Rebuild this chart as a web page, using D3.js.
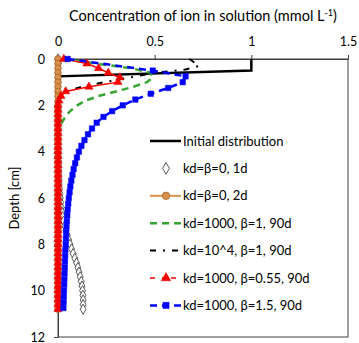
<!DOCTYPE html>
<html>
<head>
<meta charset="utf-8">
<script src="https://cdn.jsdelivr.net/npm/d3@7"></script>
<style>
  body { margin: 0; background: #fff; }
  svg { display: block; font-family: Lato, "Open Sans", sans-serif; }
</style>
</head>
<body>
<svg id="chart" width="359" height="343"></svg>
<script>
// depth grids (cm)
const depth02 = [0, 0.2, 0.4, 0.6, 0.8, 1, 1.2, 1.4, 1.6, 1.8, 2, 2.2, 2.4, 2.6, 2.8, 3, 3.2, 3.4, 3.6, 3.8,
  4, 4.2, 4.4, 4.6, 4.8, 5, 5.2, 5.4, 5.6, 5.8, 6, 6.2, 6.4, 6.6, 6.8, 7, 7.2, 7.4, 7.6, 7.8,
  8, 8.2, 8.4, 8.6, 8.8, 9, 9.2, 9.4, 9.6, 9.8, 10, 10.2, 10.4, 10.6, 10.8];
const depth025 = [0, 0.5, 0.75, 1, 1.25, 1.5, 1.75, 2, 2.25, 2.5, 2.75, 3, 3.25, 3.5, 3.75, 4, 4.25, 4.5, 4.75,
  5, 5.25, 5.5, 5.75, 6, 6.25, 6.5, 6.75, 7, 7.25, 7.5, 7.75, 8, 8.25, 8.5, 8.75, 9, 9.25, 9.5, 9.75,
  10, 10.25, 10.5, 10.75];

// concentrations (mmol/L)
const initDepth = [0, 0.5, 0.75, 10.8];
const initConc = [1, 1, 0, 0];

const conc1d = [0, 0, 0, 0, 0, 0, 0, 0, 0, 0, 0, 0, 0, 0, 0, 0, 0, 0, 0, 0,
  0.001, 0.001, 0.002, 0.002, 0.003, 0.004, 0.005, 0.006, 0.008, 0.01, 0.012, 0.014, 0.017, 0.02, 0.024,
  0.029, 0.035, 0.041, 0.048, 0.055, 0.062, 0.07, 0.078, 0.087, 0.096, 0.103, 0.109, 0.115, 0.12, 0.124,
  0.127, 0.129, 0.13, 0.13, 0.13];
const conc2d = [0, 0, 0, 0, 0, 0, 0, 0, 0, 0, 0, 0, 0, 0, 0, 0, 0, 0, 0, 0,
  0, 0, 0, 0, 0, 0, 0, 0, 0, 0, 0, 0, 0, 0, 0, 0, 0, 0, 0, 0,
  0, 0, 0, 0, 0, 0, 0, 0, 0, 0, 0, 0, 0, 0, 0];

const greenDepth = [0, 0.2, 0.4, 0.6, 0.8, 1, 1.2, 1.4, 1.6, 1.8, 2, 2.2, 2.4, 2.6, 2.8, 3, 3.2, 10.8];
const greenConc = [0.03, 0.2, 0.38, 0.48, 0.49, 0.46, 0.39, 0.3, 0.21, 0.14, 0.1, 0.07, 0.045, 0.03, 0.015, 0.005, 0, 0];

const blackDepth = [0, 0.3, 0.45, 0.6, 0.8, 1, 1.2, 1.4, 1.6, 1.8, 10.8];
const blackConc = [0.68, 0.73, 0.66, 0.5, 0.37, 0.24, 0.12, 0.05, 0.01, 0, 0];

const redConc = [0.03, 0.15, 0.21, 0.26, 0.32, 0.31, 0.16, 0.04, 0.015, 0.005,
  0, 0, 0, 0, 0, 0, 0, 0, 0, 0, 0, 0, 0, 0, 0, 0, 0, 0, 0, 0,
  0, 0, 0, 0, 0, 0, 0, 0, 0, 0, 0, 0, 0, 0, 0, 0, 0, 0, 0, 0, 0, 0, 0, 0, 0];

const blueConc = [0.05, 0.49, 0.66, 0.645, 0.57, 0.48, 0.4, 0.335, 0.28, 0.235, 0.2, 0.176, 0.155, 0.137,
  0.121, 0.108, 0.098, 0.089, 0.081, 0.075, 0.069, 0.064, 0.06, 0.056, 0.053, 0.05, 0.048, 0.046, 0.044,
  0.042, 0.041, 0.04, 0.038, 0.037, 0.036, 0.035, 0.034, 0.033, 0.032, 0.031, 0.03, 0.029, 0.028];

const xTicks = [0, 0.5, 1, 1.5];
const yTicks = [0, 2, 4, 6, 8, 10, 12];
const legendLabels = ['Initial distribution', 'kd=β=0, 1d', 'kd=β=0, 2d', 'kd=1000, β=1, 90d',
  'kd=10^4, β=1, 90d', 'kd=1000, β=0.55, 90d', 'kd=1000, β=1.5, 90d'];

const zip = (ds, cs) => ds.map((d, i) => ({depth: d, conc: cs[i]}));

const series = [
  {data: zip(initDepth, initConc), color: '#000', width: 2.5, dash: null, marker: null},
  {data: zip(depth02, conc1d), color: 'none', width: 0, dash: null,
    marker: {type: d3.symbolDiamond, size: 30, fill: '#fff', stroke: '#444', sw: 0.9}},
  {data: zip(depth02, conc2d), color: '#D9904A', width: 2, dash: null,
    marker: {type: d3.symbolCircle, size: 34, fill: '#D9904A', stroke: '#9C5F22', sw: 0.7}},
  {data: zip(greenDepth, greenConc), color: '#36A531', width: 2.5, dash: '7,5', marker: null},
  {data: zip(blackDepth, blackConc), color: '#000', width: 2, dash: '6,7,2,7', marker: null},
  {data: zip(depth02, redConc), color: '#FF0000', width: 1.5, dash: null,
    marker: {type: d3.symbolTriangle, size: 30, fill: '#FF0000', stroke: '#E00000', sw: 0.5}},
  {data: zip(depth025, blueConc), color: '#0000FF', width: 2.5, dash: '7,5',
    marker: {type: d3.symbolSquare, size: 30, fill: '#0000FF', stroke: '#0000FF', sw: 0.5}}
];

const svg = d3.select('#chart');
const margin = {top: 59, left: 58};
const width = 290, height = 278;

const x = d3.scaleLinear().domain([0, 1.5]).range([0, width]);
const y = d3.scaleLinear().domain([0, 12]).range([0, height]);

const chart = svg.append('g')
  .attr('transform', 'translate(' + margin.left + ',' + margin.top + ')');

// plot area border
chart.append('rect')
  .attr('width', width).attr('height', height)
  .attr('fill', 'none').attr('stroke', '#404040').attr('stroke-width', 1);

const xAxis = d3.axisTop(x).tickValues(xTicks).tickSize(4).tickPadding(9)
  .tickFormat(d3.format('~g'));
const yAxis = d3.axisLeft(y).tickValues(yTicks).tickSize(4).tickPadding(9);

chart.append('g').attr('class', 'axis').call(xAxis);
chart.append('g').attr('class', 'axis').call(yAxis);
chart.selectAll('.axis path, .axis line').attr('stroke', '#404040');
chart.selectAll('.axis text').attr('font-size', 12.5).attr('fill', '#000')
  .attr('font-family', 'Lato, sans-serif');

const line = d3.line().x(d => x(d.conc)).y(d => y(d.depth));

series.forEach(s => {
  if (s.color !== 'none') {
    chart.append('path')
      .datum(s.data)
      .attr('d', line)
      .attr('fill', 'none')
      .attr('stroke', s.color)
      .attr('stroke-width', s.width)
      .attr('stroke-dasharray', s.dash);
  }
  if (s.marker) {
    chart.append('g').selectAll('path')
      .data(s.data)
      .enter().append('path')
      .attr('transform', d => 'translate(' + x(d.conc) + ',' + y(d.depth) + ')')
      .attr('d', d3.symbol().type(s.marker.type).size(s.marker.size))
      .attr('fill', s.marker.fill)
      .attr('stroke', s.marker.stroke)
      .attr('stroke-width', s.marker.sw);
  }
});

// titles
const title = svg.append('text')
  .attr('x', 203).attr('y', 21)
  .attr('text-anchor', 'middle')
  .attr('font-size', 14.5);
title.append('tspan').text('Concentration of ion in solution (mmol L');
title.append('tspan').attr('font-size', 9).attr('dy', -5).text('-1');
title.append('tspan').attr('dy', 5).text(')');

svg.append('text')
  .attr('transform', 'translate(19,198) rotate(-90)')
  .attr('text-anchor', 'middle')
  .attr('font-size', 13)
  .text('Depth [cm]');

// legend
const legend = svg.append('g').attr('transform', 'translate(150,141)');
const legItems = legend.selectAll('g')
  .data(series)
  .enter().append('g')
  .attr('transform', (d, i) => 'translate(0,' + (i * 27.4) + ')');

legItems.filter(d => d.color !== 'none').append('line')
  .attr('x1', 0).attr('x2', 31)
  .attr('stroke', d => d.color)
  .attr('stroke-width', d => d.width)
  .attr('stroke-dasharray', (d, i) => i === 4 ? '5,7,2,7' : d.dash);

legItems.filter(d => d.marker).append('path')
  .attr('transform', 'translate(16,0)')
  .attr('d', d => d3.symbol().type(d.marker.type).size(d.marker.size * 1.3)())
  .attr('fill', d => d.marker.fill)
  .attr('stroke', d => d.marker.stroke)
  .attr('stroke-width', d => d.marker.sw);

legItems.append('text')
  .attr('x', 33).attr('dy', '0.35em')
  .attr('font-size', 13)
  .text((d, i) => legendLabels[i]);
</script>
</body>
</html>
